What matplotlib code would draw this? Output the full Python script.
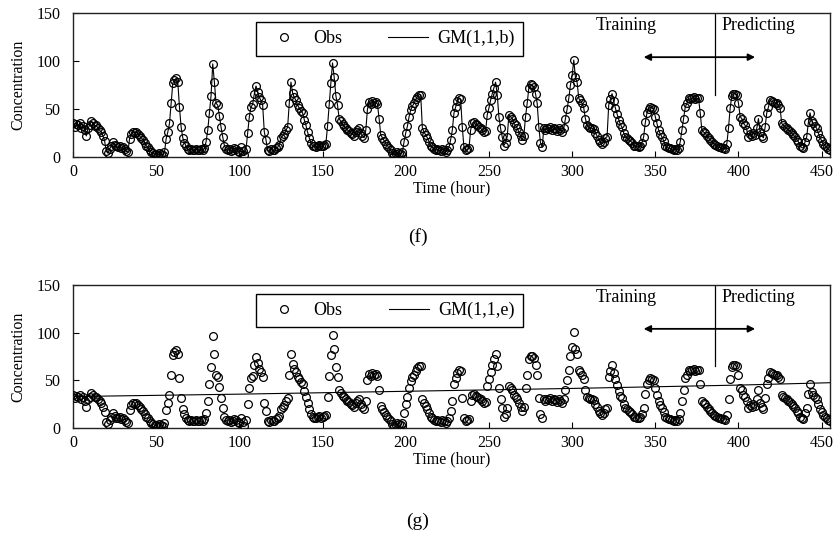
import numpy as np
import matplotlib
matplotlib.use("Agg")
import matplotlib.pyplot as plt
from matplotlib.lines import Line2D

plt.rcParams['font.family'] = ['Liberation Serif', 'DejaVu Serif']

# Observed concentration, hourly (t = 0 .. 455)
obs = [
    35, 31, 34, 33, 35, 30, 32, 28, 22, 30,
    33, 37, 35, 32, 33, 30, 28, 26, 22, 17,
    6, 4, 8, 12, 16, 13, 11, 10, 12, 9,
    10, 8, 6, 5, 19, 24, 26, 25, 26, 24,
    22, 20, 18, 15, 12, 10, 7, 5, 4, 3,
    3, 2, 4, 3, 2, 5, 19, 26, 35, 56,
    77, 80, 82, 78, 52, 31, 20, 15, 11, 8,
    7, 8, 7, 7, 8, 7, 7, 8, 7, 9,
    16, 28, 46, 64, 97, 78, 56, 54, 43, 31,
    21, 12, 8, 7, 8, 6, 7, 9, 8, 6,
    5, 10, 6, 2, 8, 25, 42, 52, 55, 66,
    74, 68, 62, 59, 54, 26, 18, 7, 6, 8,
    7, 7, 9, 10, 13, 20, 22, 24, 28, 31,
    56, 78, 67, 62, 59, 54, 51, 48, 46, 39,
    33, 26, 20, 15, 12, 11, 10, 12, 13, 11,
    12, 13, 14, 32, 55, 77, 98, 83, 64, 54,
    40, 37, 34, 32, 30, 28, 27, 25, 24, 22,
    26, 28, 30, 25, 22, 20, 28, 50, 57, 55,
    58, 56, 57, 55, 40, 23, 20, 17, 14, 12,
    9, 7, 4, 2, 3, 5, 4, 3, 5, 16,
    25, 32, 42, 49, 53, 56, 60, 63, 65, 65,
    30, 26, 23, 20, 16, 12, 10, 8, 7, 8,
    7, 6, 8, 7, 5, 7, 10, 18, 28, 46,
    52, 58, 61, 60, 31, 10, 7, 8, 9, 28,
    35, 36, 34, 33, 31, 30, 28, 26, 27, 44,
    51, 59, 66, 72, 78, 65, 42, 30, 21, 12,
    15, 21, 44, 42, 40, 35, 33, 30, 26, 22,
    18, 22, 42, 56, 72, 76, 75, 73, 66, 56,
    31, 15, 10, 30, 28, 30, 29, 31, 28, 30,
    29, 27, 30, 28, 26, 30, 40, 50, 61, 75,
    85, 101, 83, 78, 61, 59, 56, 51, 40, 33,
    31, 30, 30, 29, 25, 22, 18, 16, 14, 16,
    20, 21, 54, 60, 66, 58, 51, 45, 39, 34,
    31, 25, 21, 20, 18, 17, 15, 12, 12, 11,
    10, 12, 15, 21, 36, 46, 50, 52, 51, 50,
    42, 35, 28, 24, 21, 17, 12, 10, 9, 9,
    8, 7, 8, 7, 9, 16, 28, 40, 52, 56,
    61, 60, 61, 62, 60, 61, 61, 46, 28, 26,
    25, 22, 20, 18, 16, 14, 13, 12, 10, 10,
    9, 9, 8, 14, 30, 51, 64, 66, 66, 65,
    56, 42, 40, 35, 33, 28, 21, 24, 22, 25,
    23, 30, 40, 26, 22, 20, 31, 46, 52, 59,
    58, 57, 56, 56, 54, 51, 35, 33, 31, 30,
    28, 27, 25, 23, 21, 18, 16, 12, 10, 9,
    16, 21, 36, 46, 38, 35, 32, 30, 25, 20,
    17, 14, 12, 10, 8, 7,
]
hours = np.arange(len(obs))

# GM(1,1,b) fit tracks the observations closely (drawn as a line through them)
gm_b = obs

# GM(1,1,e) fitted trend
gm_e_hours = [0, 100, 200, 300, 400, 455]
gm_e = [33, 35.5, 38.5, 41.5, 45.0, 47.5]

split_hour = 386
train_arrow = [343, 386, 410]
x_ticks = [0, 50, 100, 150, 200, 250, 300, 350, 400, 450]
y_ticks = [0, 50, 100, 150]

fig = plt.figure(figsize=(8.35, 5.33), dpi=100)
ax1 = fig.add_axes([0.0874, 0.7054, 0.9066, 0.2702])
ax2 = fig.add_axes([0.0874, 0.1970, 0.9066, 0.2683])


def style(ax, fit_x, fit_y, fit_label):
    ax.plot(fit_x, fit_y, color='black', lw=0.8, zorder=2)
    ax.plot(hours, obs, ls='none', marker='o', ms=5.6, mfc='none',
            mec='black', mew=0.9, zorder=3)
    ax.set_xlim(0, 455)
    ax.set_ylim(0, 150)
    ax.set_xticks(x_ticks)
    ax.set_yticks(y_ticks)
    ax.tick_params(direction='in', length=4, width=0.8, labelsize=11.5,
                   top=False, right=False)
    ax.tick_params(axis='x', pad=5)
    ax.tick_params(axis='y', pad=9)
    for s in ax.spines.values():
        s.set_linewidth(1.0)
        s.set_color('#222222')
    ax.set_ylabel('Concentration', fontsize=11.5, labelpad=7)
    ax.set_xlabel('Time (hour)', fontsize=11.5, labelpad=0)
    # training / predicting marks
    ax.plot([split_hour, split_hour], [150, 65], color='black', lw=0.9, zorder=2)
    ax.annotate('', xy=(train_arrow[0], 104), xytext=(train_arrow[2], 104),
                arrowprops=dict(arrowstyle='<|-|>', color='black', lw=1.3,
                                mutation_scale=10, shrinkA=0, shrinkB=0))
    ax.text(314, 137, 'Training', ha='left', va='center', fontsize=13)
    ax.text(390, 137, 'Predicting', ha='left', va='center', fontsize=13)
    h_obs = Line2D([], [], ls='none', marker='o', ms=5.6, mfc='none',
                   mec='black', mew=0.9)
    h_fit = Line2D([], [], color='black', lw=0.8)
    leg = ax.legend([h_obs, h_fit], ['Obs', fit_label], ncol=2,
                    loc='upper left', bbox_to_anchor=(0.242, 0.9375, 0.352, 0.0),
                    mode='expand', borderaxespad=0, borderpad=0.45,
                    handlelength=2.2, handletextpad=0.5, columnspacing=1.6,
                    fontsize=13, numpoints=1, frameon=True, fancybox=False,
                    edgecolor='black', framealpha=1)
    leg.get_frame().set_linewidth(1.0)


style(ax1, hours, gm_b, 'GM(1,1,b)')
style(ax2, gm_e_hours, gm_e, 'GM(1,1,e)')

fig.text(0.5, 1 - 237 / 533, '(f)', ha='center', va='center', fontsize=14)
fig.text(0.5, 1 - 521 / 533, '(g)', ha='center', va='center', fontsize=14)

fig.savefig('out.png', dpi=100)
